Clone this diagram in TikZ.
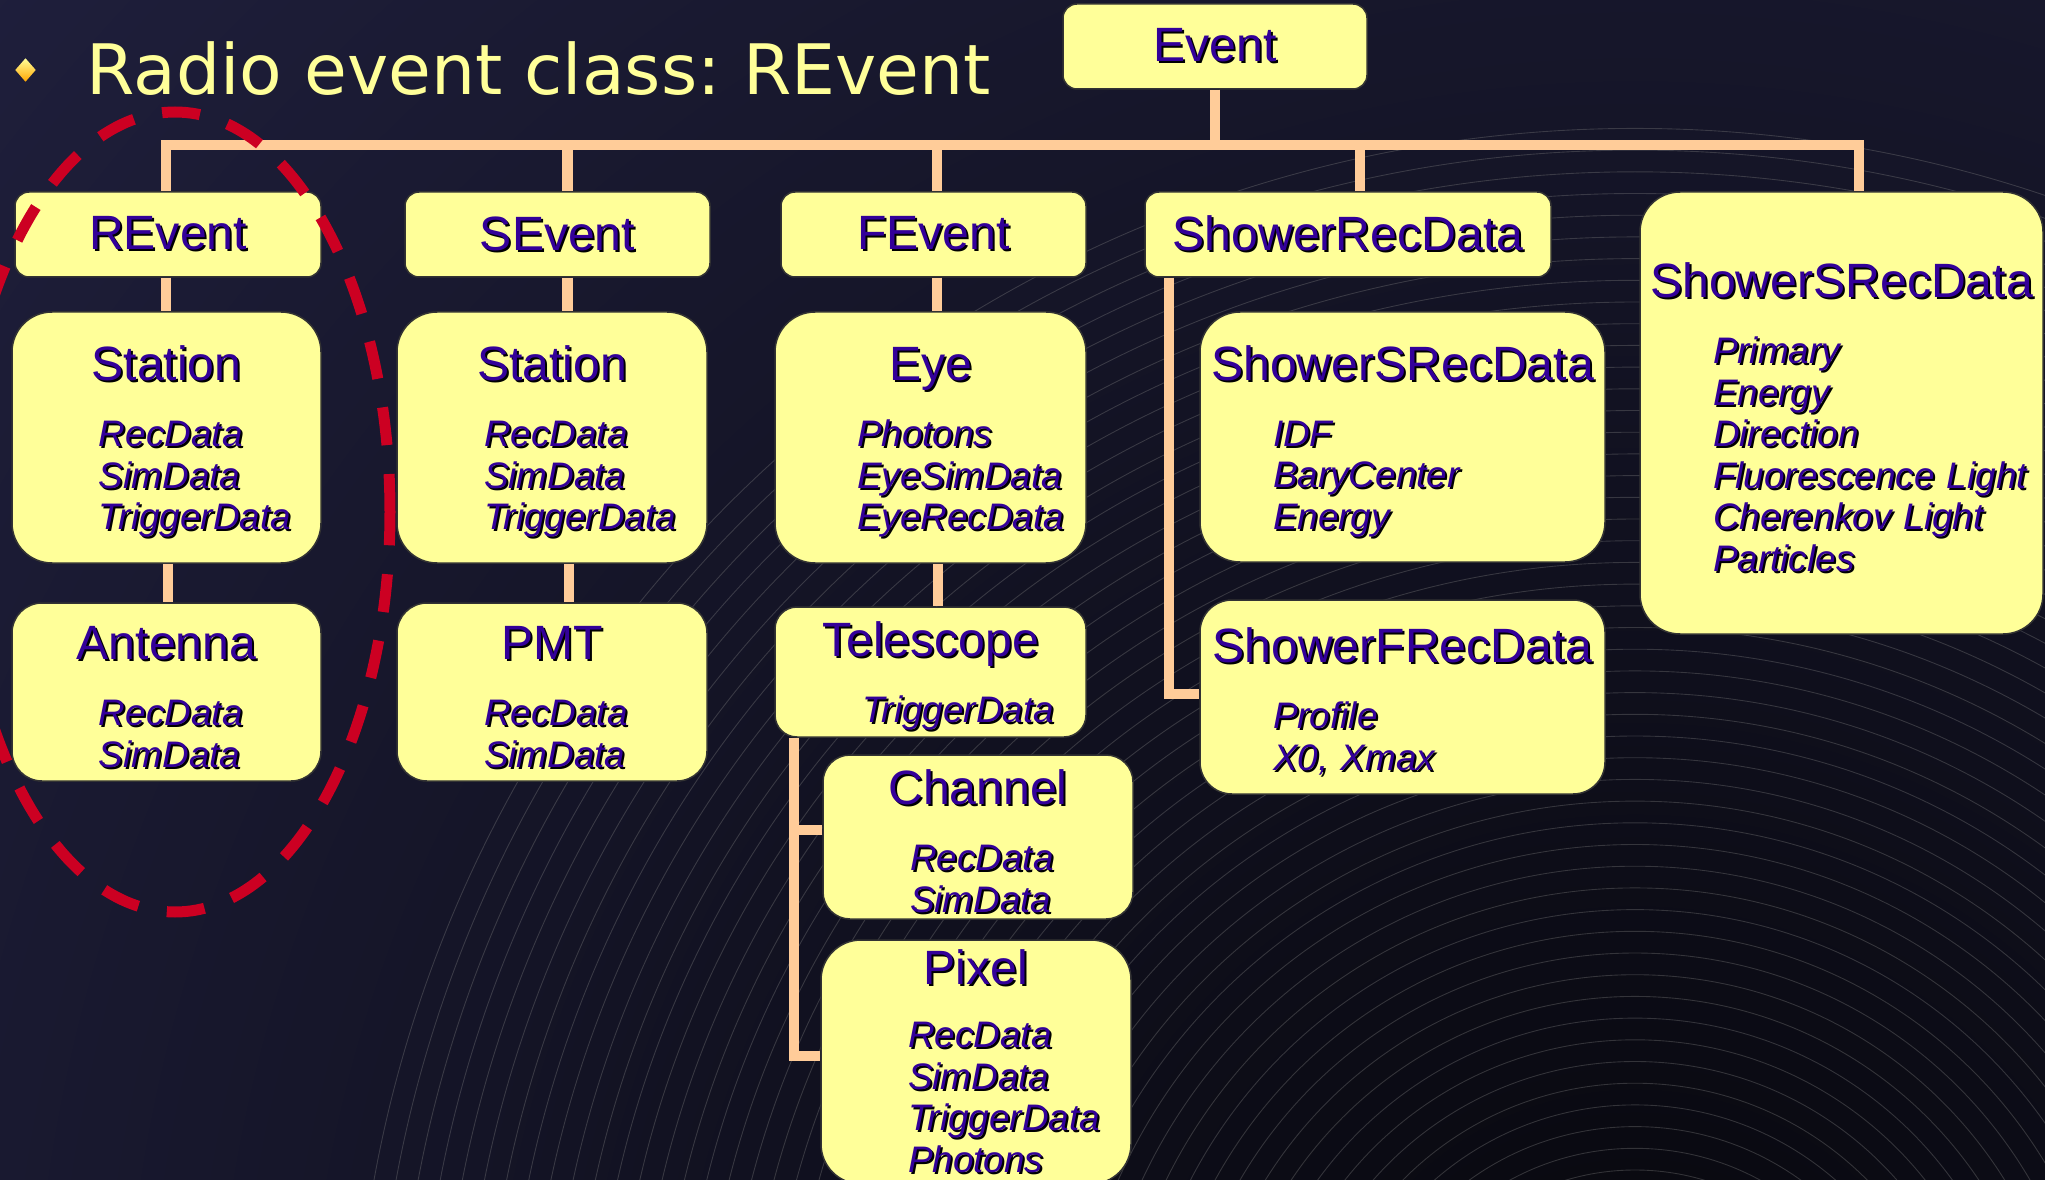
\documentclass[tikz,border=0pt]{standalone}
\usepackage{fontspec}
\setmainfont{Liberation Sans}
\newfontfamily\titlefont{DejaVu Sans}
\usetikzlibrary{positioning,shapes.geometric}

\definecolor{bgnavy}{HTML}{1F1F3C}
\definecolor{bgdark}{HTML}{07070C}
\definecolor{boxfill}{HTML}{FFFF99}
\definecolor{inktext}{HTML}{330099}
\definecolor{peach}{HTML}{FFCC99}
\definecolor{ringred}{HTML}{CC0022}
\definecolor{titleyellow}{HTML}{FFFF99}

\newlength\clsind
\setlength\clsind{8.7mm}
% text with a black drop shadow
\newcommand\shd[1]{\leavevmode\rlap{\kern0.2mm\raisebox{-0.2mm}{\color{black}#1}}#1}
\newcommand\hd[1]{\makebox[\hsize]{\fontsize{13.7}{16}\selectfont\shd{#1}}}
% header line followed by the member list
\newcommand\hdl[1]{\hd{\rule{0pt}{12.9pt}#1}\\[2.45mm]}
\newcommand\itm[1]{\hspace*{\clsind}\shd{\itshape #1}}

\tikzset{
  clsbox/.style={draw=black!80, line width=0.15mm, fill=boxfill, text=inktext,
    rounded corners=4mm, inner sep=0pt, align=left,
    font=\fontsize{10.5}{11.8}\selectfont},
  boxsize/.style 2 args={minimum width=#1, text width=#1, minimum height=#2},
  itemshift/.style={execute at begin node={\setlength{\clsind}{#1}}},
  conn/.style={draw=peach, line width=1.05mm, line join=miter},
  ring/.style={draw=gray, line width=0.25pt, opacity=0.35},
  redring/.style={draw=ringred, line width=1.1mm, dash pattern=on 3.8mm off 2.9mm},
  bulletmark/.style={diamond, minimum width=2.1mm, minimum height=2.4mm, inner sep=0pt,
    top color=yellow!40!white, bottom color=orange!70!yellow},
  titletext/.style={text=titleyellow, inner sep=0pt,
    font=\titlefont\fontsize{19.8}{24}\selectfont\frenchspacing}
}

\begin{document}
\begin{tikzpicture}[x=0.1mm, y=-0.1mm]
  \useasboundingbox (0,0) rectangle (2045,1180);
  % background
  \fill[bgnavy] (0,0) rectangle (2045,1180);
  \begin{scope}
    \clip (0,0) rectangle (2045,1180);
    \shade[inner color=bgdark, outer color=bgnavy] (1635,1410) circle [radius=220mm];
    \foreach \k in {0,...,48}
      \draw[ring] (1635,1410) circle [radius=24mm+2.17mm*\k];
  \end{scope}

  \node[bulletmark] (bullet) at (25.5,70) {};
  \node[titletext, anchor=base west] (title) at (86,95) {Radio event class: REvent};

  % classes
  \path
  node[clsbox, boxsize={30.4mm}{8.5mm}, rounded corners=1.4mm] (ev) at (1215,46.5) {\hd{Event}}
  node[clsbox, boxsize={30.6mm}{8.5mm}, rounded corners=1.4mm] (rev) at (168,234.5) {\hd{REvent}}
  node[clsbox, boxsize={30.5mm}{8.5mm}, rounded corners=1.4mm] (sev) at (557.5,234.5) {\hd{SEvent}}
  node[clsbox, boxsize={30.5mm}{8.5mm}, rounded corners=1.4mm] (fev) at (933.5,234.5) {\hd{FEvent}}
  node[clsbox, boxsize={40.6mm}{8.5mm}, rounded corners=1.4mm] (srd) at (1348,234.5) {\hd{ShowerRecData}}
  node[clsbox, boxsize={40.3mm}{44.2mm}, itemshift=7.3mm] (ssbig) at (1841.5,413)
    {\hdl{ShowerSRecData}\itm{Primary}\\\itm{Energy}\\\itm{Direction}\\
     \itm{Fluorescence Light}\\\itm{Cherenkov Light}\\\itm{Particles}}

  node[clsbox, boxsize={30.9mm}{25.1mm}] (st1) at (166.5,437.5)
    {\hdl{Station}\itm{RecData}\\\itm{SimData}\\\itm{TriggerData}}
  node[clsbox, boxsize={30.9mm}{17.8mm}, rounded corners=3mm] (ant) at (166.5,692)
    {\hdl{Antenna}\itm{RecData}\\\itm{SimData}}

  node[clsbox, boxsize={31mm}{25.1mm}] (st2) at (552,437.5)
    {\hdl{Station}\itm{RecData}\\\itm{SimData}\\\itm{TriggerData}}
  node[clsbox, boxsize={31mm}{17.8mm}, rounded corners=3mm] (pmt) at (552,692)
    {\hdl{PMT}\itm{RecData}\\\itm{SimData}}

  node[clsbox, boxsize={31.1mm}{25.1mm}, itemshift=8.2mm] (eye) at (930.5,437.5)
    {\hdl{Eye}\itm{Photons}\\\itm{EyeSimData}\\\itm{EyeRecData}}
  node[clsbox, boxsize={31.1mm}{13mm}, rounded corners=2.2mm] (tel) at (930.5,672)
    {\hdl{Telescope}\itm{TriggerData}}
  node[clsbox, boxsize={31mm}{16.4mm}, rounded corners=2.7mm] (chn) at (978,837)
    {\hdl{Channel}\itm{RecData}\\\itm{SimData}}
  node[clsbox, boxsize={31mm}{24.4mm}] (pix) at (976,1062)
    {\hd{Pixel}\\[2.2mm]\itm{RecData}\\\itm{SimData}\\\itm{TriggerData}\\\itm{Photons}}

  node[clsbox, boxsize={40.5mm}{25mm}, itemshift=7.3mm] (ssr) at (1402.5,437)
    {\hdl{ShowerSRecData}\itm{IDF}\\\itm{BaryCenter}\\\itm{Energy}}
  node[clsbox, boxsize={40.5mm}{19.4mm}, rounded corners=3.2mm, itemshift=7.3mm] (sfr) at (1402.5,697)
    {\hdl{ShowerFRecData}\itm{Profile}\\\itm{X0, Xmax}}
  ;

  % links
  \coordinate (bar) at (0,145);
  \draw[conn] (ev.south) -- (ev.south |- bar);
  \draw[conn] ([xshift=-0.2mm]rev.north) |- ([xshift=1.75mm]ssbig.north |- bar)
    -- ([xshift=1.75mm]ssbig.north);
  \draw[conn] ([xshift=1mm]sev.north) -- ([xshift=1mm]sev.north |- bar);
  \draw[conn] ([xshift=0.35mm]fev.north) -- ([xshift=0.35mm]fev.north |- bar);
  \draw[conn] ([xshift=1.2mm]srd.north) -- ([xshift=1.2mm]srd.north |- bar);

  \draw[conn] ([xshift=-0.2mm]rev.south) -- ([xshift=-0.2mm]rev.south |- st1.north);
  \draw[conn] ([xshift=0.15mm]st1.south) -- ([xshift=0.15mm]st1.south |- ant.north);
  \draw[conn] ([xshift=1mm]sev.south) -- ([xshift=1mm]sev.south |- st2.north);
  \draw[conn] ([xshift=1.7mm]st2.south) -- ([xshift=1.7mm]st2.south |- pmt.north);
  \draw[conn] ([xshift=0.35mm]fev.south) -- ([xshift=0.35mm]fev.south |- eye.north);
  \draw[conn] ([xshift=0.75mm]eye.south) -- ([xshift=0.75mm]eye.south |- tel.north);

  \draw[conn] ([xshift=-13.65mm]tel.south) |- ([yshift=0.6mm]pix.west);
  \draw[conn] ([yshift=0.7mm]chn.west) -- ++(-29,0);
  \draw[conn] ([xshift=-17.9mm]srd.south) |- ([yshift=0.3mm]sfr.west);

  % radio part
  \draw[redring] (175,512) ellipse [x radius=21.5mm, y radius=40mm];
\end{tikzpicture}
\end{document}
